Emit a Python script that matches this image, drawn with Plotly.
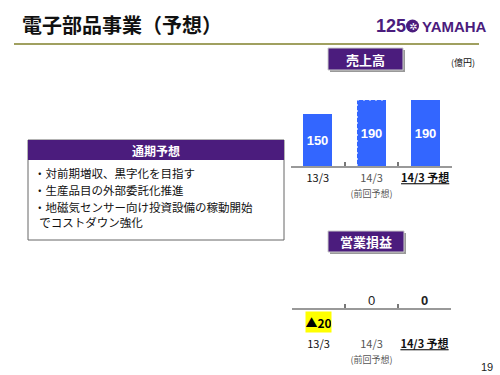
import plotly.graph_objects as go

# ---- data ----
categories = ["13/3", "14/3", "14/3予想"]
tick_labels_sales = ["13/3", "<span style='color:#555'>14/3</span><br><span style='font-size:9px;color:#555'>(前回予想)</span>", "<b><u>14/3 予想</u></b>"]
sales = [150, 190, 190]
profit = [-20, 0, 0]
bullets = ["・対前期増収、黒字化を目指す", "・生産品目の外部委託化推進", "・地磁気センサー向け投資設備の稼動開始", "  でコストダウン強化"]

W, H = 500, 375
def px(x): return x / W
def py(y): return 1 - y / H

JP = "Noto Sans CJK JP"
PURPLE = "#4B1C7D"
BLUE = "#3366FF"
BAR_W = 0.54

fig = go.Figure()

fig.add_trace(go.Bar(
    x=categories, y=sales, xaxis="x", yaxis="y", width=BAR_W,
    marker=dict(color=BLUE, line=dict(width=0)),
    text=[str(v) for v in sales], textposition="inside", insidetextanchor="middle", textangle=0,
    textfont=dict(color="white", size=13, family="Liberation Sans"),
    texttemplate="<b>%{text}</b>", showlegend=False, hoverinfo="skip",
))
fig.add_trace(go.Bar(
    x=categories, y=[0 for _ in profit], xaxis="x2", yaxis="y2", width=BAR_W,
    marker=dict(color="rgba(0,0,0,0)"), showlegend=False, hoverinfo="skip",
))

axis_common = dict(
    type="category", showline=True, linecolor="#999", linewidth=2,
    ticks="inside", tickson="boundaries", ticklen=4, tickcolor="#777", tickwidth=2,
    showgrid=False, zeroline=False, fixedrange=True, tickangle=0, automargin=False,
    tickfont=dict(family=JP, size=11, color="#111"),
)
fig.update_layout(
    width=W, height=H, margin=dict(l=0, r=0, t=0, b=0, autoexpand=False),
    paper_bgcolor="white", plot_bgcolor="rgba(0,0,0,0)",
    bargap=0,
    xaxis=dict(domain=[px(291), px(452)], anchor="y",
               tickvals=categories, ticktext=tick_labels_sales, ticklabelstandoff=1, **axis_common),
    yaxis=dict(domain=[py(166), py(166) + 250 * 0.3474 / H], range=[0, 250],
               visible=False, fixedrange=True, automargin=False),
    xaxis2=dict(domain=[px(292), px(451)], anchor="free", position=py(309),
                tickvals=categories, ticktext=tick_labels_sales, ticklabelstandoff=25, **axis_common),
    yaxis2=dict(domain=[py(334), py(284)], range=[-38.5, 38.5],
                visible=False, fixedrange=True, automargin=False),
)

shapes = []
ann = []

# dotted outline for the previous-forecast bar (computed from data)
i = 1
for (x0, y0, x1, y1) in [(i - BAR_W / 2, 0, i - BAR_W / 2, sales[i]), (i - BAR_W / 2, sales[i], i + BAR_W / 2, sales[i])]:
    shapes.append(dict(type="line", xref="x", yref="y", x0=x0, y0=y0, x1=x1, y1=y1,
                       line=dict(color="white", width=1.2, dash="2px,4px")))

# profit labels
for i, v in enumerate(profit):
    if v < 0:
        ann.append(dict(xref="x2", yref="y2", x=categories[i], y=v, text="<b>▲%d</b>" % abs(v),
                        showarrow=False, bgcolor="#FFFF00", width=25, height=20, borderpad=0,
                        font=dict(family=JP, size=12, color="black"), yanchor="middle"))
    else:
        ann.append(dict(xref="x2", yref="y2", x=categories[i], y=v,
                        text=("<b>%d</b>" % v) if i == 2 else str(v),
                        showarrow=False, yanchor="bottom", yshift=-1,
                        font=dict(family="Liberation Sans", size=13, color="#222")))

# title
ann.append(dict(xref="paper", yref="paper", x=px(20), y=py(24), xanchor="left", yanchor="middle",
                text="<b>電子部品事業（予想）</b>", showarrow=False,
                font=dict(family=JP, size=20, color="#111")))
shapes.append(dict(type="line", xref="paper", yref="paper", x0=px(14), x1=px(479), y0=py(44), y1=py(44),
                   line=dict(color="#A0A060", width=2)))

# logo
ann.append(dict(xref="paper", yref="paper", x=px(374), y=py(26), xanchor="left", yanchor="middle",
                text="<b>125</b>", showarrow=False,
                font=dict(family="Liberation Sans", size=18, color=PURPLE)))
shapes.append(dict(type="circle", xref="paper", yref="paper", x0=px(406), x1=px(419), y0=py(32.5), y1=py(19.5),
                   fillcolor=PURPLE, line=dict(width=0)))
ann.append(dict(xref="paper", yref="paper", x=px(412.5), y=py(26), xanchor="center", yanchor="middle",
                text="✲", showarrow=False, font=dict(family="DejaVu Sans", size=10, color="white")))
ann.append(dict(xref="paper", yref="paper", x=px(420), y=py(26), xanchor="left", yanchor="middle",
                text="<b>YAMAHA</b>", showarrow=False,
                font=dict(family="Liberation Sans", size=15, color=PURPLE)))

# purple header boxes with shadow
def header_box(x0, x1, y0, y1, label):
    shapes.append(dict(type="rect", xref="paper", yref="paper", x0=px(x0 + 2), x1=px(x1 + 2), y0=py(y1 + 2), y1=py(y0 + 2),
                       fillcolor="#999", line=dict(width=0)))
    shapes.append(dict(type="rect", xref="paper", yref="paper", x0=px(x0), x1=px(x1), y0=py(y1), y1=py(y0),
                       fillcolor=PURPLE, line=dict(color="#CCC", width=1)))
    ann.append(dict(xref="paper", yref="paper", x=px((x0 + x1) / 2), y=py((y0 + y1) / 2),
                    xanchor="center", yanchor="middle", text="<b>%s</b>" % label, showarrow=False,
                    font=dict(family=JP, size=13, color="white")))

header_box(328, 403, 48, 70, "売上高")
header_box(328, 404, 231, 252, "営業損益")

ann.append(dict(xref="paper", yref="paper", x=px(463), y=py(62), xanchor="center", yanchor="middle",
                text="(億円)", showarrow=False, font=dict(family=JP, size=9, color="#111")))

# left text box
shapes.append(dict(type="rect", xref="paper", yref="paper", x0=px(28), x1=px(284), y0=py(240), y1=py(140),
                   fillcolor="white", line=dict(color="#666", width=1), layer="below"))
shapes.append(dict(type="rect", xref="paper", yref="paper", x0=px(28), x1=px(284), y0=py(160), y1=py(140),
                   fillcolor=PURPLE, line=dict(width=0)))
ann.append(dict(xref="paper", yref="paper", x=px(156), y=py(150), xanchor="center", yanchor="middle",
                text="<b>通期予想</b>", showarrow=False, font=dict(family=JP, size=12, color="white")))
for yy, t in zip([173, 190, 207, 222], bullets):
    ann.append(dict(xref="paper", yref="paper", x=px(32), y=py(yy), xanchor="left", yanchor="middle",
                    text=t.replace(" ", "&nbsp;"), showarrow=False, font=dict(family=JP, size=11.5, color="#111")))

# page number
ann.append(dict(xref="paper", yref="paper", x=px(487), y=py(367), xanchor="center", yanchor="middle",
                text="19", showarrow=False, font=dict(family="Liberation Sans", size=11, color="#222")))

fig.update_layout(shapes=shapes, annotations=ann)
fig.write_html("out.html", config={"displayModeBar": False},
               post_script="document.body.style.margin='0';document.body.style.overflow='hidden';")
